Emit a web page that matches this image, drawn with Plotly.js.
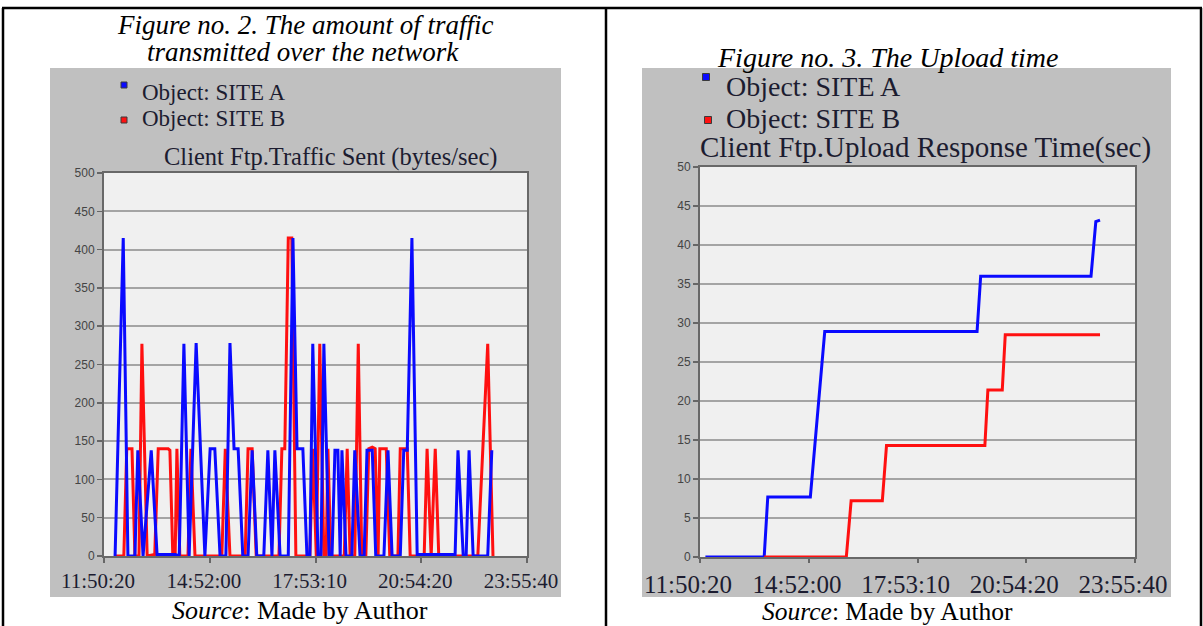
<!DOCTYPE html>
<html><head><meta charset="utf-8">
<script src="https://cdn.plot.ly/plotly-3.0.1.min.js"></script>
<style>html,body{margin:0;padding:0;background:#fff;}#chart{width:1203px;height:626px;}</style>
</head><body><div id="chart"></div>
<script>
// ---- data ----
const tickTimes = ['11:50:20','14:52:00','17:53:10','20:54:20','23:55:40'];
const seriesNames = ['Object: SITE A','Object: SITE B'];
const trafficTicks = [0,50,100,150,200,250,300,350,400,450,500];
const uploadTicks = [0,5,10,15,20,25,30,35,40,45,50];

// Figure 2 - Client Ftp.Traffic Sent (bytes/sec); time = minutes after 11:50:20
const trafficA_min = [19,33,41,53,58,67,81,91,122,129,137,146,158,173,182,190,199,209,216,223,230,238,247,254,262,274,281,288,293,302,316,324,331,341,348,353,358,367,372,377,386,391,396,401,405,408,415,425,430,439,446,451,460,466,480,487,494,508,514,520,528,537,598,602,607,616,621,626,633,658,665];
const trafficA_val = [0,415,0,0,138,0,138,2,2,0,277,0,278,0,140,140,0,0,278,140,140,0,0,138,0,0,138,0,138,0,0,415,140,140,0,0,277,0,0,277,0,0,138,138,0,138,0,0,138,0,0,138,138,0,0,138,0,0,138,138,415,2,2,0,138,0,0,138,0,0,138];
const trafficB_min = [19,34,39,48,53,60,65,74,87,93,110,113,118,122,125,130,144,149,156,202,208,216,242,247,254,261,300,305,310,316,322,329,353,358,364,370,377,381,384,389,412,417,422,430,436,442,449,454,460,465,470,473,484,490,504,508,520,525,549,554,561,568,574,578,593,597,641,658,667];
const trafficB_val = [0,0,140,140,0,0,277,0,2,140,140,138,0,0,140,0,0,140,0,0,140,0,0,140,140,0,0,140,140,415,415,0,0,140,0,277,0,0,140,0,0,140,0,0,277,0,0,140,142,140,0,140,140,0,0,140,140,0,0,140,0,140,0,2,2,0,0,277,0];

// Figure 3 - Client Ftp.Upload Response Time (sec)
const uploadA_min = [9,107,113,184,208,462,468,652,660,667];
const uploadA_val = [0,0,7.7,7.7,28.9,28.9,36,36,43,43.2];
const uploadB_min = [107,244,252,304,311,475,480,504,509,667];
const uploadB_val = [0,0,7.2,7.2,14.3,14.3,21.4,21.4,28.5,28.5];

// ---- helpers ----
const W = 1203, H = 626;
const px = x => x / W, py = y => 1 - y / H;
const pad = n => String(n).padStart(2, '0');
const BASE = Date.UTC(2000, 0, 1, 11, 50, 20);
function fmt(ms){ const d = new Date(ms); return `2000-01-01 ${pad(d.getUTCHours())}:${pad(d.getUTCMinutes())}:${pad(d.getUTCSeconds())}`; }
const fromMin = m => fmt(BASE + m * 60000);
const fromClock = s => '2000-01-01 ' + s;
const tickDates = tickTimes.map(fromClock);
const xRange = [tickDates[0], tickDates[tickDates.length - 1]];

const BLUE = '#0a0aff', RED = '#ff1010';
const traces = [
  {x: trafficB_min.map(fromMin), y: trafficB_val, name: seriesNames[1], xaxis:'x', yaxis:'y', mode:'lines', line:{color:RED, width:3}},
  {x: trafficA_min.map(fromMin), y: trafficA_val, name: seriesNames[0], xaxis:'x', yaxis:'y', mode:'lines', line:{color:BLUE, width:3}},
  {x: uploadA_min.map(fromMin), y: uploadA_val, name: seriesNames[0], xaxis:'x2', yaxis:'y2', mode:'lines', line:{color:BLUE, width:3}},
  {x: uploadB_min.map(fromMin), y: uploadB_val, name: seriesNames[1], xaxis:'x2', yaxis:'y2', mode:'lines', line:{color:RED, width:3}}
];

const serif = 'Liberation Serif, Times New Roman, serif';
const textCol = '#1c1c30';
function xax(dom, anchor, fs, shift, tl){
  return {domain: dom, anchor: anchor, type:'date', range: xRange, tickmode:'array', tickvals: tickDates, ticktext: tickTimes,
    showgrid:false, zeroline:false, showline:true, mirror:true, linecolor:'#686868', linewidth:2,
    ticks:'outside', ticklen: tl, tickwidth:2, tickcolor:'#666', ticklabelshift: shift,
    tickfont:{family: serif, size: fs, color: textCol}, fixedrange:true};
}
function yax(dom, anchor, range, tv, fs){
  return {domain: dom, anchor: anchor, range: range, tickmode:'array', tickvals: tv,
    showgrid:true, gridcolor:'#a4a4a4', gridwidth:2, zeroline:false, showline:true, mirror:true, linecolor:'#686868', linewidth:2,
    ticks:'outside', ticklen:5, tickwidth:1.5, tickcolor:'#666', tickfont:{family:'Liberation Sans, Arial, sans-serif', size: fs, color:'#444'}, fixedrange:true};
}

function ann(text, x, y, size, extra){
  return Object.assign({text: text, x: px(x), y: py(y), xref:'paper', yref:'paper', showarrow:false,
    xanchor:'center', yanchor:'middle', borderpad:0, font:{family: serif, size: size, color:'#000'}}, extra || {});
}
function sq(cx, cy, s, color){
  return {type:'rect', xref:'paper', yref:'paper', x0: px(cx - s/2), x1: px(cx + s/2), y0: py(cy + s/2), y1: py(cy - s/2),
    fillcolor: color, line:{color:'#3a3a3a', width:1}, layer:'above'};
}
function line(x0, y0, x1, y1, w){
  return {type:'line', xref:'paper', yref:'paper', x0: px(x0), y0: py(y0), x1: px(x1), y1: py(y1), line:{color:'#000', width: w}};
}

const shapes = [
  // grey panels
  {type:'rect', xref:'paper', yref:'paper', x0: px(50), x1: px(561), y0: py(597), y1: py(68), fillcolor:'#c0c0c0', line:{width:0}, layer:'below'},
  {type:'rect', xref:'paper', yref:'paper', x0: px(642), x1: px(1171), y0: py(597), y1: py(68), fillcolor:'#c0c0c0', line:{width:0}, layer:'below'},
  // plot backgrounds
  {type:'rect', xref:'x domain', yref:'y domain', x0:0, x1:1, y0:0, y1:1, fillcolor:'#f0f0f0', line:{width:0}, layer:'below'},
  {type:'rect', xref:'x2 domain', yref:'y2 domain', x0:0, x1:1, y0:0, y1:1, fillcolor:'#f0f0f0', line:{width:0}, layer:'below'},
  // table borders
  line(2, 8, 1202, 8, 2.5), line(3, 8, 3, 626, 2.5), line(606, 8, 606, 626, 2.5), line(1201, 8, 1201, 626, 2.5),
  // legend squares
  sq(124, 85, 6, BLUE), sq(124, 120, 6, RED),
  sq(706, 77, 7, BLUE), sq(708, 120, 7, RED)
];

const annotations = [
  ann('<i>Figure no. 2. The amount of traffic</i>', 305, 25, 27),
  ann('<i>transmitted over the network</i>', 303, 52, 27),
  ann('<i>Figure no. 3. The Upload time</i>', 887, 57, 28),
  ann('<i>Source</i>: Made by Author', 300, 610, 26),
  ann('<i>Source</i>: Made by Author', 887, 611, 25.5),
  ann(seriesNames[0], 141, 92, 23, {xanchor:'left', font:{family: serif, size: 23, color: textCol}}),
  ann(seriesNames[1], 141, 119, 23, {xanchor:'left', font:{family: serif, size: 23, color: textCol}}),
  ann('Client Ftp.Traffic Sent (bytes/sec)', 330, 157, 24.5, {font:{family: serif, size: 24.5, color: textCol}}),
  ann(seriesNames[0], 725, 86, 28, {xanchor:'left', font:{family: serif, size: 28, color: textCol}}),
  ann(seriesNames[1], 725, 119, 28, {xanchor:'left', font:{family: serif, size: 28, color: textCol}}),
  ann('Client Ftp.Upload Response Time(sec)', 926, 148, 29, {font:{family: serif, size: 29, color: textCol}})
];

const layout = {
  width: W, height: H, margin:{l:0, r:0, t:0, b:0}, paper_bgcolor:'#ffffff', plot_bgcolor:'rgba(0,0,0,0)', showlegend:false,
  xaxis: xax([px(104), px(527)], 'y', 21, -6, 5),
  yaxis: yax([py(556), py(173)], 'x', [0, 500], trafficTicks, 12),
  xaxis2: xax([px(700), px(1135)], 'y2', 25, -12, 4),
  yaxis2: yax([py(557), py(167)], 'x2', [0, 50], uploadTicks, 12),
  shapes: shapes, annotations: annotations
};
Plotly.newPlot('chart', traces, layout, {displayModeBar:false, staticPlot:true});
</script></body></html>
